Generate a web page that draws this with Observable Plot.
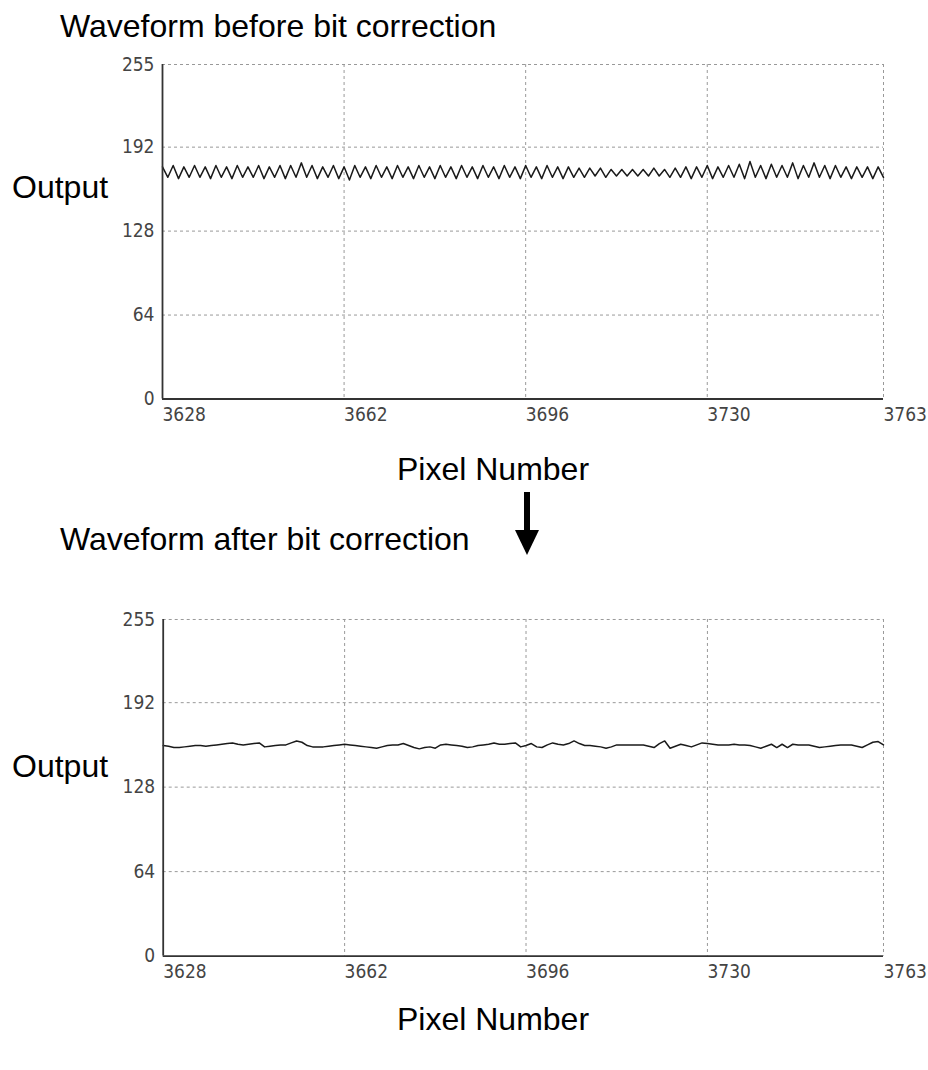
<!DOCTYPE html>
<html>
<head>
<meta charset="utf-8">
<script src="https://cdn.jsdelivr.net/npm/d3@7"></script>
<script src="https://cdn.jsdelivr.net/npm/@observablehq/plot@0.6"></script>
<style>
  html, body { margin: 0; padding: 0; background: #fff; }
  #page { position: relative; width: 928px; height: 1070px; overflow: hidden; background: #fff; }
  .lbl { position: absolute; font-family: "Liberation Sans", Arial, sans-serif; font-size: 32px; color: #000; white-space: nowrap; line-height: 1; }
  .chart { position: absolute; left: 0; }
  .chart svg { display: block; }
</style>
</head>
<body>
<div id="page">
  <div class="lbl" style="left:60px; top:10px;">Waveform before bit correction</div>
  <div class="lbl" style="left:12px; top:171px;">Output</div>
  <div class="lbl" style="left:397px; top:453px;">Pixel Number</div>
  <div class="lbl" style="left:60px; top:523px;">Waveform after bit correction</div>
  <div class="lbl" style="left:12px; top:750px;">Output</div>
  <div class="lbl" style="left:397px; top:1003px;">Pixel Number</div>
  <svg style="position:absolute; left:510px; top:490px;" width="34" height="70">
    <rect x="14" y="2" width="6" height="44" fill="#000"></rect>
    <polygon points="5,40 29,40 17,65" fill="#000"></polygon>
  </svg>
  <div id="c1" class="chart" style="top:0px;"></div>
  <div id="c2" class="chart" style="top:555px;"></div>
</div>
<script>
const startPixel = 3628;
const xDomain = [3628, 3763];
const xTicks = [3628, 3662, 3696, 3730, 3763];
const yTicks = [0, 64, 128, 192, 255];

const before = [
  177,169,178,168,177,169,178,169,177,168,
  178,169,177,168,178,169,177,169,178,168,
  177,169,178,168,178,169,180,169,178,168,
  177,169,178,168,177,167,178,169,177,168,
  178,169,177,168,178,169,177,168,178,169,
  177,168,178,169,177,168,178,169,177,168,
  178,169,177,168,178,169,177,168,178,169,
  177,168,178,169,177,168,177,169,176,169,
  176,170,176,169,175,170,175,170,175,170,
  175,170,176,170,175,169,176,169,177,168,
  177,169,178,168,177,169,178,169,179,168,
  181,169,178,168,179,169,178,169,180,168,
  178,169,180,169,178,168,178,169,177,168,
  177,169,177,168,177,169
];

const after = [
  159.5,159,158,158,158.5,159,159.5,159.5,159,159.5,
  160,160.5,161,161.5,160.5,160,160.5,161,161.5,158.5,
  159,159.5,160,160,161.5,163,162,159.5,158.5,158.5,
  158.5,159,159.5,160,160.5,160,159.5,159,158.5,158,
  157.5,158.5,159.5,160,160,161,159.5,158,157,158,
  158.5,157.5,160,160.5,160,159.5,159,158,158.5,159.5,
  160,160.5,161.5,160.5,160.5,161,161.5,158.5,159.5,161,
  158.5,158,160,161.5,160.5,160,161,163,161,159.5,
  159.5,159,158.5,157.5,158.5,160,160,160,160,160,
  160,159,158,161,163,157.5,159,160.5,159.5,158.5,
  160,161.5,161,160.5,160,160,160,160.5,160,160,
  159.5,158.5,157.5,159,160.5,158,160.5,158,160.5,160,
  160,160,159,158,158.5,159,159.5,160,160,160,
  159,158,160,162,162.5,160
];

function chart(values, mt, ml, plotH) {
  const gridStyle = {stroke: "#999", strokeOpacity: 1, strokeWidth: 1, strokeDasharray: "3,3"};
  return Plot.plot({
    width: 928,
    height: mt + plotH + 34,
    marginTop: mt,
    marginLeft: ml,
    marginRight: 928 - 883,
    marginBottom: 34,
    style: {fontFamily: "'DejaVu Sans Condensed', 'Liberation Sans Narrow', 'DejaVu Sans', sans-serif", fontStretch: "condensed", fontSize: "19px", color: "#444", background: "transparent"},
    x: {domain: xDomain},
    y: {domain: [0, 255]},
    marks: [
      Plot.gridX(xTicks.slice(1), gridStyle),
      Plot.gridY(yTicks.slice(1), gridStyle),
      Plot.axisX(xTicks, {tickSize: 0, tickPadding: 8, textAnchor: "start", fill: "#444", tickFormat: d => String(d)}),
      Plot.axisY(yTicks, {tickSize: 0, tickPadding: 8, fill: "#444", tickFormat: d => String(d)}),
      Plot.line(values, {x: (d, i) => startPixel + i, y: d => d, stroke: "#1a1a1a", strokeWidth: 1.5}),
      Plot.ruleX([xDomain[0]], {stroke: "#333", strokeWidth: 1.8}),
      Plot.ruleY([0], {stroke: "#333", strokeWidth: 1.8})
    ]
  });
}

document.getElementById("c1").appendChild(chart(before, 64, 162, 334.5));
document.getElementById("c2").appendChild(chart(after, 64, 162.7, 336.6));
</script>
</body>
</html>
